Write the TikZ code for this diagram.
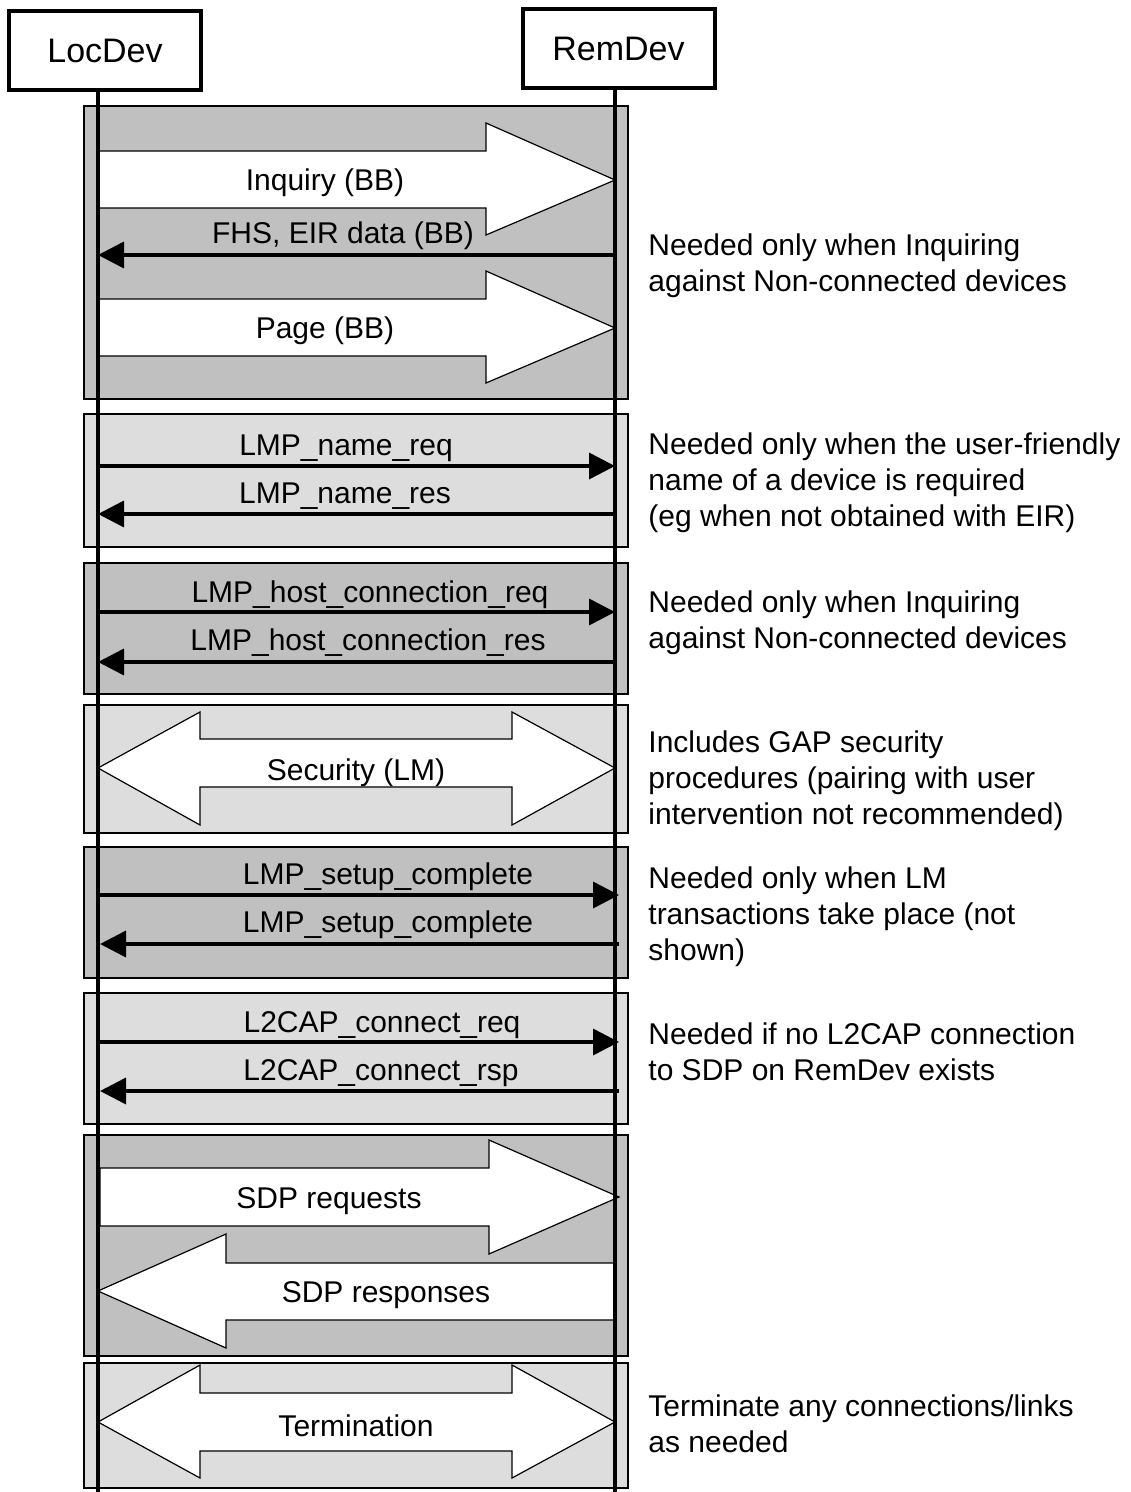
\documentclass[tikz,border=0pt]{standalone}
\usepackage{fontspec}
\setmainfont{Liberation Sans}
\usetikzlibrary{arrows.meta,positioning,calc}
\definecolor{graydark}{RGB}{192,192,192}
\definecolor{graylight}{RGB}{221,221,221}

\begin{document}
\begin{tikzpicture}[x=0.5pt,y=-0.5pt,
  dev/.style={draw,line width=2pt,fill=white,minimum width=96pt,minimum height=39.5pt,inner sep=0pt,font=\fontsize{17}{20}\selectfont},
  darkblk/.style={draw=black,line width=0.9pt,fill=graydark},
  lightblk/.style={draw=black,line width=0.9pt,fill=graylight},
  fat/.style={draw,line width=0.6pt,fill=white,line join=miter},
  life/.style={line width=2pt},
  msg/.style={line width=1.8pt,-{Triangle[length=13pt,width=13pt]}},
  lbl/.style={inner sep=0pt,font=\fontsize{15}{18}\selectfont},
  note/.style={anchor=west,align=left,inner sep=0pt,font=\fontsize{15}{18}\selectfont}]
\useasboundingbox (0,0) rectangle (1130,1492);

% devices and lifelines
\node[dev] (loc) at (105,50.5) {\raisebox{-2pt}{LocDev}};
\node[dev] (rem) at (618.5,49) {\raisebox{-2pt}{RemDev}};
\coordinate (lx) at (98,0);
\coordinate (rx) at (615,0);

% phase blocks
\draw[darkblk]  (84,106)  rectangle (628,399);
\draw[lightblk] (84,414)  rectangle (628,547);
\draw[darkblk]  (84,563)  rectangle (628,694);
\draw[lightblk] (84,705)  rectangle (628,833);
\draw[darkblk]  (84,847)  rectangle (628,978);
\draw[lightblk] (84,993)  rectangle (628,1124);
\draw[darkblk]  (84,1135) rectangle (628,1356);
\draw[lightblk] (84,1363) rectangle (628,1488);

% broad arrows
\draw[fat] (98,151) -- (486,151) -- (486,123) -- (615,180) -- (486,235) -- (486,208) -- (98,208) -- cycle;
\draw[fat] (98,299) -- (486,299) -- (486,271) -- (615,328) -- (486,383) -- (486,356) -- (98,356) -- cycle;
\draw[fat] (98,768) -- (200,712) -- (200,739) -- (512,739) -- (512,712) -- (615,768) -- (512,825) -- (512,787) -- (200,787) -- (200,825) -- cycle;
\draw[fat] (100,1168) -- (489,1168) -- (489,1140) -- (619,1197) -- (489,1254) -- (489,1226) -- (100,1226) -- cycle;
\draw[fat] (98,1291) -- (226,1234) -- (226,1263) -- (615,1263) -- (615,1320) -- (226,1320) -- (226,1348) -- cycle;
\draw[fat] (98,1422) -- (200,1365) -- (200,1393) -- (512,1393) -- (512,1365) -- (615,1422) -- (512,1478) -- (512,1451) -- (200,1451) -- (200,1478) -- cycle;

\draw[life] (loc.south -| lx) -- (lx |- 0,1492);
\draw[life] (rem.south -| rx) -- (rx |- 0,1492);

% messages
\draw[msg] (rx |- 0,255) -- (lx |- 0,255);
\draw[msg] (lx |- 0,466) -- (rx |- 0,466);
\draw[msg] (rx |- 0,514) -- (lx |- 0,514);
\draw[msg] (lx |- 0,612) -- (rx |- 0,612);
\draw[msg] (rx |- 0,662) -- (lx |- 0,662);
\draw[msg] ([xshift=1pt]lx |- 0,895) -- ([xshift=2pt]rx |- 0,895);
\draw[msg] ([xshift=2pt]rx |- 0,944) -- ([xshift=1pt]lx |- 0,944);
\draw[msg] ([xshift=1pt]lx |- 0,1042) -- ([xshift=2pt]rx |- 0,1042);
\draw[msg] ([xshift=2pt]rx |- 0,1091) -- ([xshift=1pt]lx |- 0,1091);

% labels
\node[lbl] (inq) at (325,183) {Inquiry (BB)};
\node[lbl] (fhs) at (343,236) {FHS, EIR data (BB)};
\node[lbl] (pag) at (325,331) {Page (BB)};
\node[lbl] (nrq) at (346,448) {LMP\_name\_req};
\node[lbl] (nrs) at (345,496) {LMP\_name\_res};
\node[lbl] (hrq) at (370,595) {LMP\_host\_connection\_req};
\node[lbl] (hrs) at (368,643) {LMP\_host\_connection\_res};
\node[lbl] (sec) at (356,773) {Security (LM)};
\node[lbl] (sc1) at (388,877) {LMP\_setup\_complete};
\node[lbl] (sc2) at (388,925) {LMP\_setup\_complete};
\node[lbl] (crq) at (382,1025) {L2CAP\_connect\_req};
\node[lbl] (crs) at (381,1073) {L2CAP\_connect\_rsp};
\node[lbl] (sdq) at (329,1201) {SDP requests};
\node[lbl] (sds) at (386,1295) {SDP responses};
\node[lbl] (ter) at (356,1426) {Termination};

% notes
\node[note] (n1) at (648,266) {Needed only when Inquiring\\against Non-connected devices};
\node[note] (n2) at (648,483) {Needed only when the user-friendly\\name of a device is required\\(eg when not obtained with EIR)};
\node[note] (n3) at (648,623) {Needed only when Inquiring\\against Non-connected devices};
\node[note] (n4) at (648,781) {Includes GAP security\\procedures (pairing with user\\intervention not recommended)};
\node[note] (n5) at (648,917) {Needed only when LM\\transactions take place (not\\shown)};
\node[note] (n6) at (648,1052) {Needed if no L2CAP connection\\to SDP on RemDev exists};
\node[note] (n7) at (648,1424) {Terminate any connections/links\\as needed};
\end{tikzpicture}
\end{document}
